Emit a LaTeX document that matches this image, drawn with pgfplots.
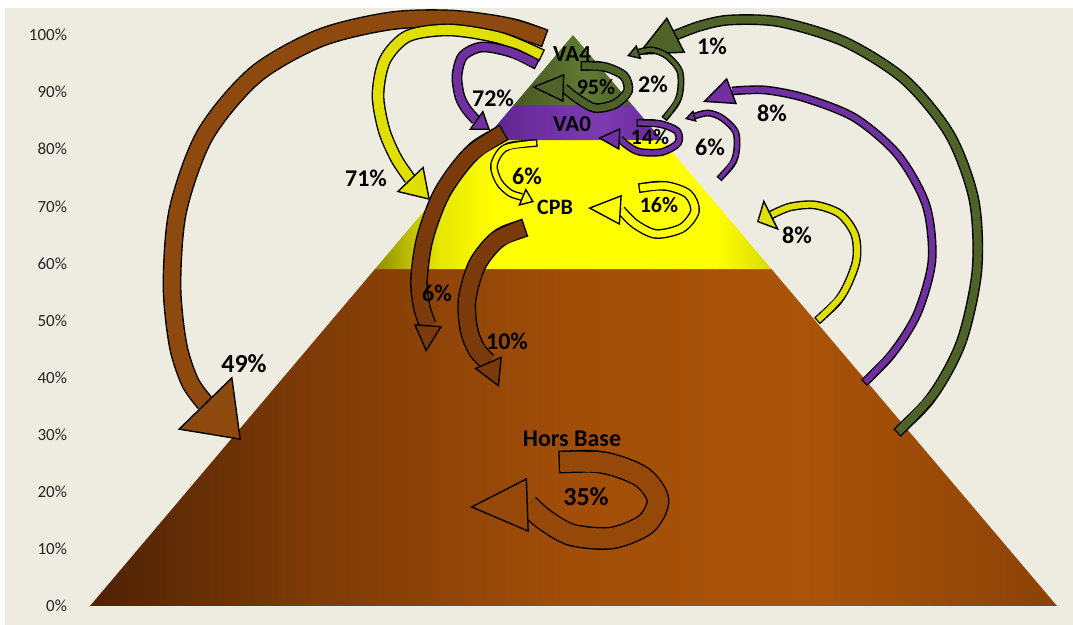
\documentclass[border=0pt]{standalone}
\usepackage{fontspec}
\setmainfont{Carlito}
\usepackage{pgfplots}
\pgfplotsset{compat=1.18}
\usetikzlibrary{arrows.meta}

\definecolor{bg}{HTML}{EEECE1}
\definecolor{br1}{HTML}{4E2205}
\definecolor{br2}{HTML}{7C3A07}
\definecolor{br3}{HTML}{A24E08}
\definecolor{br4}{HTML}{AA5309}
\definecolor{br5}{HTML}{8A4206}
\definecolor{ye1}{HTML}{8E8E00}
\definecolor{ye2}{HTML}{E6E600}
\definecolor{ye3}{HTML}{FFFF00}
\definecolor{ye5}{HTML}{DADA00}
\definecolor{pu1}{HTML}{5A2388}
\definecolor{pu2}{HTML}{6C2E9E}
\definecolor{pu3}{HTML}{7E3AB2}
\definecolor{pu5}{HTML}{652A96}
\definecolor{ol1}{HTML}{465823}
\definecolor{ol2}{HTML}{52662A}
\definecolor{ol3}{HTML}{5F7A33}
\definecolor{ol5}{HTML}{4C5F27}

\definecolor{abr}{HTML}{8E4A0E}
\definecolor{dbr}{HTML}{7A3A0A}
\definecolor{lbr}{HTML}{964808}
\definecolor{olv}{HTML}{4F6228}
\definecolor{pur}{HTML}{7030A0}
\definecolor{yel}{HTML}{FFFF00}
\definecolor{dyel}{HTML}{E0E000}

\pgfdeclarehorizontalshading{shbr}{100bp}{color(0bp)=(br1); color(25bp)=(br1); color(36bp)=(br2); color(50bp)=(br3); color(62bp)=(br4); color(75bp)=(br5); color(100bp)=(br5)}
\pgfdeclarehorizontalshading{shye}{100bp}{color(0bp)=(ye1); color(25bp)=(ye1); color(33bp)=(ye2); color(40bp)=(ye3); color(68bp)=(ye3); color(75bp)=(ye5); color(100bp)=(ye5)}
\pgfdeclarehorizontalshading{shpu}{100bp}{color(0bp)=(pu1); color(25bp)=(pu1); color(38bp)=(pu2); color(58bp)=(pu3); color(75bp)=(pu5); color(100bp)=(pu5)}
\pgfdeclarehorizontalshading{shol}{100bp}{color(0bp)=(ol1); color(25bp)=(ol1); color(38bp)=(ol2); color(55bp)=(ol3); color(75bp)=(ol5); color(100bp)=(ol5)}

\pgfplotsset{px/.style={y filter/.expression={(606-y)/5.71}}}

% #1 colour, #2 shaft width, #3 head width, #4 head length, #5 shaft pixel coordinates, #6 head base, #7 head tip
\newcommand{\barrow}[7]{%
  \addplot[px, smooth, draw=black, line width=#2+1.4pt, shorten <=-0.7pt] coordinates {#5};
  \addplot[px, smooth, draw=#1, line width=#2] coordinates {#5};
  \addplot[px, sharp plot, draw=#1, line width=0.3pt,
    -{Triangle[width=#3, length=#4, fill=#1, color=black, line width'=0.7pt]}] coordinates {#6 #7};
}
\newcommand{\lbl}[4][12]{\node[font=\bfseries\fontsize{#1}{#1}\selectfont, inner sep=0pt] at (axis cs:#2,{(606-#3)/5.71}) {#4};}

\begin{document}
\begin{tikzpicture}
\begin{axis}[
  scale only axis, width=536.5pt, height=312.5pt,
  xmin=0, xmax=1073, ymin=-3.3275, ymax=106.13,
  axis line style={draw=none},
  xtick=\empty, ytick={0,10,...,100},
  major tick length=0pt, tick style={draw=none},
  yticklabel={\pgfmathprintnumber{\tick}\%},
  yticklabel style={font=\fontsize{8.5}{10}\selectfont, text=black!85, anchor=east, xshift=37pt},
  /pgf/number format/assume math mode=true,
  axis background/.style={fill=bg},
  clip=true,
]
% white margins
\addplot[px, fill=white, draw=none] coordinates {(0,0) (1073,0) (1073,8) (0,8)} --cycle;
\addplot[px, fill=white, draw=none] coordinates {(0,0) (5,0) (5,625) (0,625)} --cycle;

% pyramid bands (percent)
\addplot[draw=none, shading=shbr] coordinates {(90,0) (1057,0) (771.44,59) (374.97,59)} --cycle;
\addplot[draw=none, shading=shye] coordinates {(374.97,59) (771.44,59) (662.06,81.6) (484.13,81.6)} --cycle;
\addplot[draw=none, shading=shpu] coordinates {(484.13,81.6) (662.06,81.6) (632.47,87.7) (513.59,87.7)} --cycle;
\addplot[draw=none, shading=shol] coordinates {(513.59,87.7) (632.47,87.7) (573,100)} --cycle;

% big arcs
\barrow{abr}{8pt}{38pt}{25.8pt}{(544,38) (505,26) (450,19) (390,21) (320,38) (255,75) (205,135) (178,210) (172,285) (178,345) (190,382) (205,403)}{(205,403)}{(241,440)}
\barrow{olv}{4pt}{20pt}{22pt}{(898,432) (935,392) (962,340) (977,270) (974,200) (950,135) (905,80) (845,42) (780,22) (730,20) (700,26) (676,35)}{(676,35)}{(637,55)}
\barrow{pur}{3pt}{14pt}{15.5pt}{(865,382) (895,350) (918,312) (932,260) (926,205) (898,155) (855,118) (805,98) (765,90) (732,91)}{(732,91)}{(703,102)}
\barrow{dyel}{3pt}{17pt}{8pt}{(818,320) (842,295) (856,262) (855,235) (840,214) (815,205) (790,207) (771,215)}{(771,215)}{(757,222)}
\barrow{dyel}{5pt}{18.5pt}{14.5pt}{(541,55) (500,38) (450,30) (408,36) (385,60) (378,95) (384,130) (396,158) (410,179)}{(410,179)}{(430,200)}
\barrow{pur}{4pt}{12pt}{8.6pt}{(536,64) (510,52) (482,47) (463,56) (457,76) (460,97) (467,110) (476,120)}{(476,120)}{(490,130)}
\barrow{dbr}{7.5pt}{14pt}{13.5pt}{(503,133) (470,155) (442,193) (425,238) (419,280) (422,308) (428,325)}{(428,325)}{(426,352)}
\barrow{dbr}{8pt}{15pt}{13.5pt}{(524,228) (497,240) (477,265) (467,300) (469,330) (477,350) (488,362)}{(488,362)}{(499,387)}
\barrow{yel}{2.5pt}{9.5pt}{6.5pt}{(536,143) (505,148) (494,165) (499,182) (510,193) (522,197)}{(522,197)}{(534,202)}

% loops and small arrows
\barrow{olv}{3.5pt}{14pt}{16pt}{(582,66) (605,67) (624,76) (628,91) (615,104) (595,108) (578,99) (564,88)}{(564,88)}{(532,87)}
\barrow{olv}{2pt}{7.5pt}{6.3pt}{(665,118) (679,97) (680,72) (667,56) (652,50) (639,52)}{(639,52)}{(627,56)}
\barrow{pur}{2.5pt}{11pt}{11pt}{(638,123) (660,124) (677,131) (678,143) (662,152) (640,152) (628,146) (620,139)}{(620,139)}{(598,138)}
\barrow{pur}{2pt}{6pt}{5.2pt}{(720,178) (735,158) (736,133) (722,118) (708,113) (695,116)}{(695,116)}{(685,119)}
\barrow{yel}{3.5pt}{15pt}{16.5pt}{(640,188) (666,186) (688,194) (695,211) (682,228) (656,234) (635,224) (621,210)}{(621,210)}{(588,208)}
\barrow{lbr}{10pt}{27pt}{29pt}{(560,462) (605,463) (642,477) (658,500) (646,524) (612,538) (572,535) (545,520) (528,505)}{(528,505)}{(470,507)}

% labels
\lbl[11.5]{572}{54}{VA4}
\lbl[11.5]{572}{124}{VA0}
\lbl[11]{555}{207}{CPB}
\lbl{572}{439}{Hors Base}
\lbl[13]{244}{364}{49\%}
\lbl{366}{178}{71\%}
\lbl{493}{98}{72\%}
\lbl{712}{46}{1\%}
\lbl{653}{84}{2\%}
\lbl[11]{596}{87}{95\%}
\lbl[11]{650}{137}{14\%}
\lbl{772}{113}{8\%}
\lbl{710}{147}{6\%}
\lbl{527}{176}{6\%}
\lbl[11]{659}{205}{16\%}
\lbl{797}{235}{8\%}
\lbl{437}{293}{6\%}
\lbl{507}{341}{10\%}
\lbl[13]{586}{497}{35\%}
\end{axis}
\end{tikzpicture}
\end{document}
